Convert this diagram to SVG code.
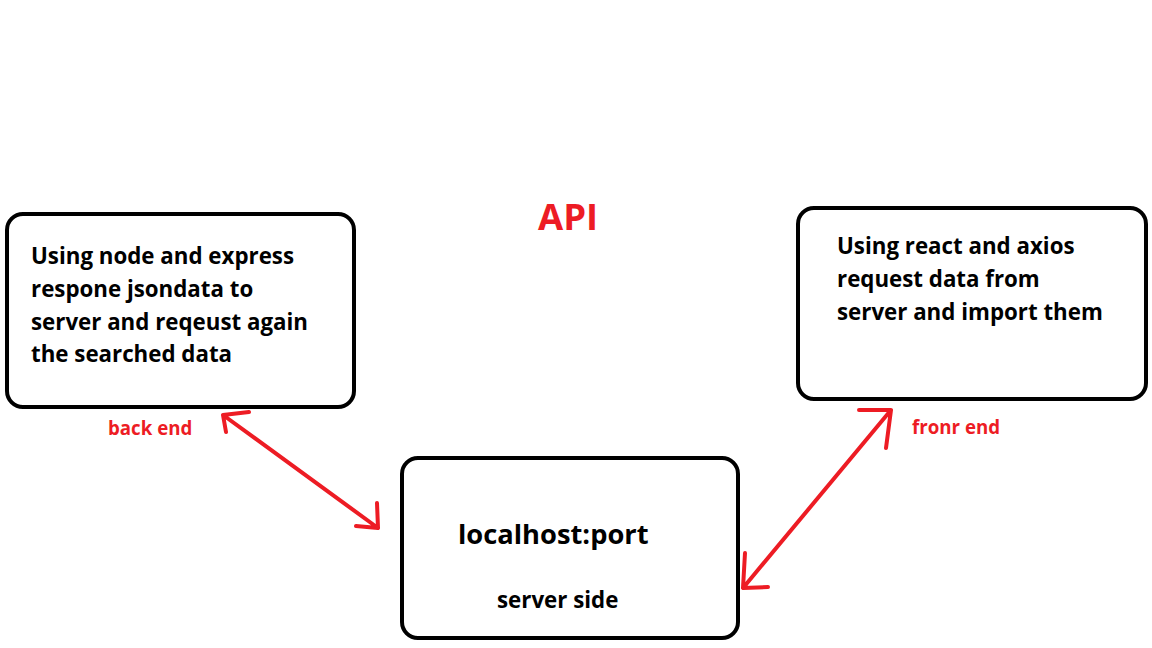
<svg xmlns="http://www.w3.org/2000/svg" width="1152" height="648" viewBox="0 0 1152 648">
<style>
.box{fill:#fff;stroke:#000;stroke-width:4}
.t{font-family:"Open Sans","Liberation Sans",sans-serif;font-weight:bold;fill:#000;font-size:22.3px}
.big{font-size:27.3px}
.r{font-family:"Open Sans","Liberation Sans",sans-serif;font-weight:bold;fill:#ed1c24;font-size:18.7px}
.api{font-size:36.5px}
.c{fill:none;stroke:#ed1c24;stroke-width:4;stroke-linecap:round;stroke-linejoin:round}
</style>
<rect width="1152" height="648" fill="#fff"/>
<text class="r api" x="538" y="230">API</text>
<g id="backend">
<rect class="box" x="7" y="214" width="347" height="193" rx="16"/>
<text class="t" x="31" y="264">Using node and express</text>
<text class="t" x="31" y="297">respone jsondata to</text>
<text class="t" x="31" y="330">server and reqeust again</text>
<text class="t" x="31" y="362">the searched data</text>
<text class="r" x="108" y="435">back end</text>
</g>
<g id="frontend">
<rect class="box" x="798" y="208" width="348" height="191" rx="16"/>
<text class="t" x="837" y="254">Using react and axios</text>
<text class="t" x="837" y="287">request data from</text>
<text class="t" x="837" y="320">server and import them</text>
<text class="r" x="912" y="434">fronr end</text>
</g>
<g id="server">
<rect class="box" x="402" y="458" width="336" height="180" rx="16"/>
<text class="t big" x="458" y="544">localhost:port</text>
<text class="t" x="497" y="608">server side</text>
</g>
<g id="connectors">
<path class="c" d="M223,415 L378,528 M249,412 L223,415 L226,432 M377,503 L378,528 L356,526"/>
<path class="c" d="M891,410 L743,588 M859,410 L891,410 L886,448 M745,553 L743,588 L768,587"/>
</g>
</svg>
